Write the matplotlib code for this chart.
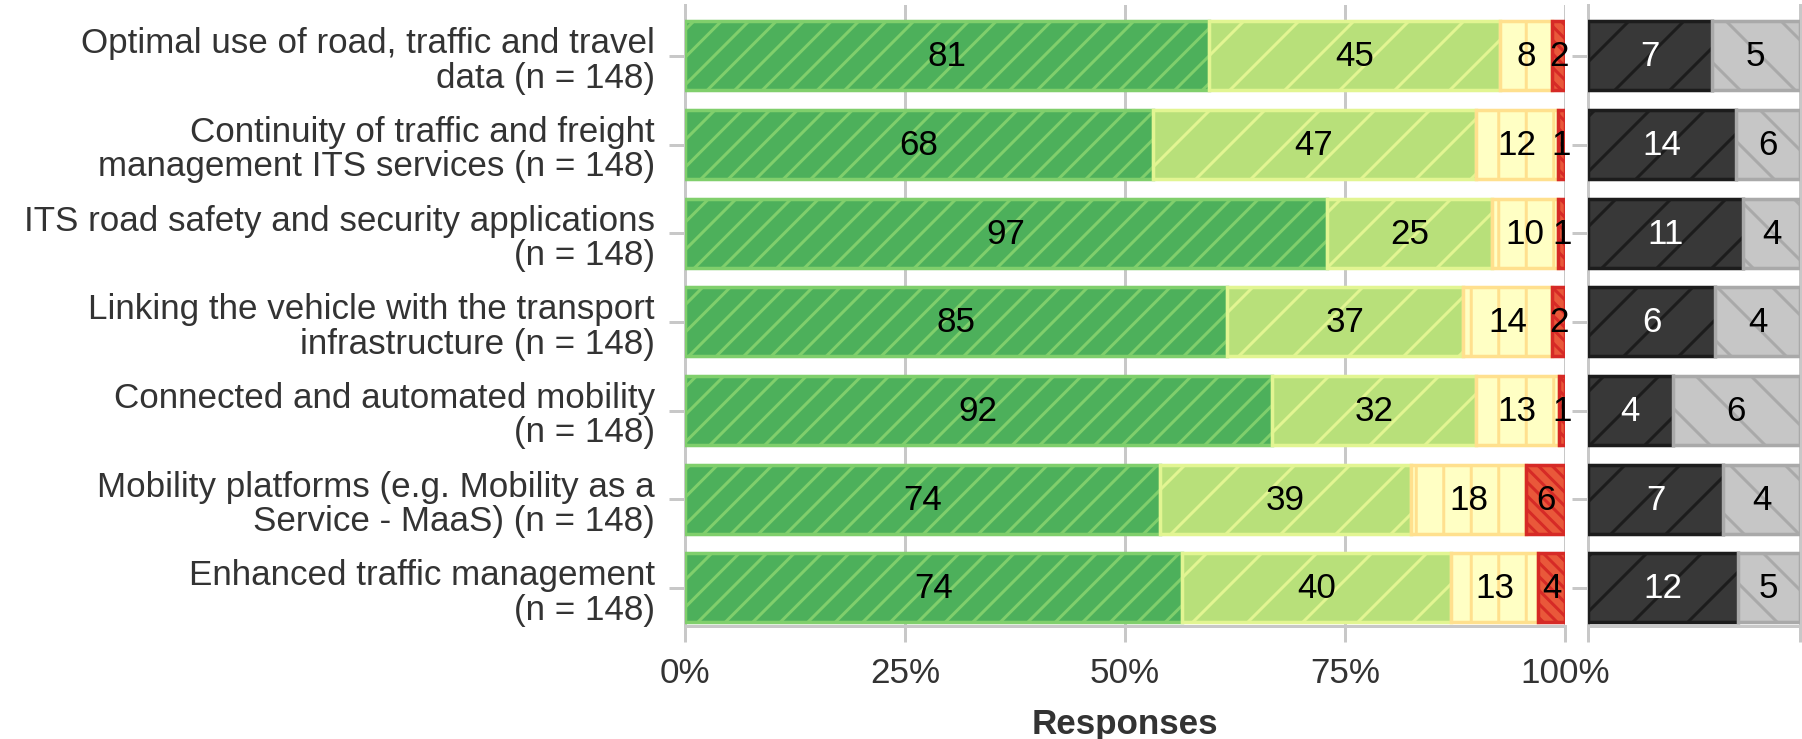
import matplotlib
matplotlib.use("Agg")
import matplotlib.pyplot as plt
import numpy as np

# data
labels = [
    "Optimal use of road, traffic and travel\ndata (n = 148)",
    "Continuity of traffic and freight\nmanagement ITS services (n = 148)",
    "ITS road safety and security applications\n(n = 148)",
    "Linking the vehicle with the transport\ninfrastructure (n = 148)",
    "Connected and automated mobility\n(n = 148)",
    "Mobility platforms (e.g. Mobility as a\nService - MaaS) (n = 148)",
    "Enhanced traffic management\n(n = 148)",
]
very_important = [81, 68, 97, 85, 92, 74, 74]
important = [45, 47, 25, 37, 32, 39, 40]
neutral = [8, 12, 10, 14, 13, 18, 13]
not_important = [2, 1, 1, 2, 1, 6, 4]
dont_know = [7, 14, 11, 6, 4, 7, 12]
no_answer = [5, 6, 4, 4, 6, 4, 5]

left_series = [very_important, important, neutral, not_important]
left_fill = ["#4db05b", "#b8e07a", "#ffffc4", "#e9583a"]
left_edge = ["#80cf6c", "#e2f592", "#ffe08e", "#d62a26"]
left_hatch = ["////", "//", "||", "\\" * 8]

right_series = [dont_know, no_answer]
right_fill = ["#383838", "#c6c6c6"]
right_edge = ["#1c1c1c", "#a9a9a9"]
right_hatch = ["//", "\\\\"]
right_text = ["white", "black"]

DPI = 330
W, H = 1802, 740
PX = 72.0 / DPI  # one pixel in points

plt.rcParams["font.family"] = ["Liberation Sans", "DejaVu Sans"]
plt.rcParams["hatch.linewidth"] = 3 * PX

fs = 35 * PX
grid_c = "#c8c8c8"
text_c = "#333333"

fig = plt.figure(figsize=(W / DPI, H / DPI), dpi=DPI)
ax = fig.add_axes([685 / W, 1 - 627 / H, 880 / W, 621 / H])
ax2 = fig.add_axes([1588 / W, 1 - 627 / H, 212 / W, 621 / H])

y = np.arange(len(labels))
bar_h = 0.78


def stack(axis, series, fills, edges, hatches, txt_colors):
    arr = np.array(series, dtype=float)
    tot = arr.sum(axis=0)
    left = np.zeros(arr.shape[1])
    for i in range(arr.shape[0]):
        w = arr[i] / tot
        axis.barh(y, w, left=left, height=bar_h, color=fills[i], edgecolor=edges[i],
                  hatch=hatches[i], linewidth=3.5 * PX, zorder=3)
        for j in range(arr.shape[1]):
            axis.text(left[j] + w[j] / 2, y[j], str(int(arr[i, j])), ha="center", va="center",
                      fontsize=fs, color=txt_colors[i], zorder=5)
        left += w


stack(ax, left_series, left_fill, left_edge, left_hatch, ["black"] * 4)
stack(ax2, right_series, right_fill, right_edge, right_hatch, right_text)

for a in (ax, ax2):
    a.set_ylim(6.43, -0.574)
    a.set_xlim(0, 1)
    a.set_yticks(y)
    for s in a.spines.values():
        s.set_color(grid_c)
        s.set_linewidth(3 * PX)
    a.spines["top"].set_visible(False)
    a.tick_params(axis="both", color=grid_c, width=3 * PX, length=16 * PX,
                  labelsize=fs, labelcolor=text_c, pad=14 * PX)

ax.spines["right"].set_visible(False)
ax.set_yticklabels(labels, linespacing=1.05)
ax.set_xticks([0, 0.25, 0.5, 0.75, 1.0])
ax.set_xticklabels(["0%", "25%", "50%", "75%", "100%"])
ax.grid(axis="x", color=grid_c, linewidth=3 * PX, zorder=0)
ax.set_axisbelow(True)
ax.set_xlabel("Responses", fontsize=fs, fontweight="bold", color=text_c, labelpad=18 * PX)

ax2.set_yticklabels([])
ax2.set_xticks([0, 1])
ax2.set_xticklabels([])

fig.savefig("out.png", dpi=DPI)
